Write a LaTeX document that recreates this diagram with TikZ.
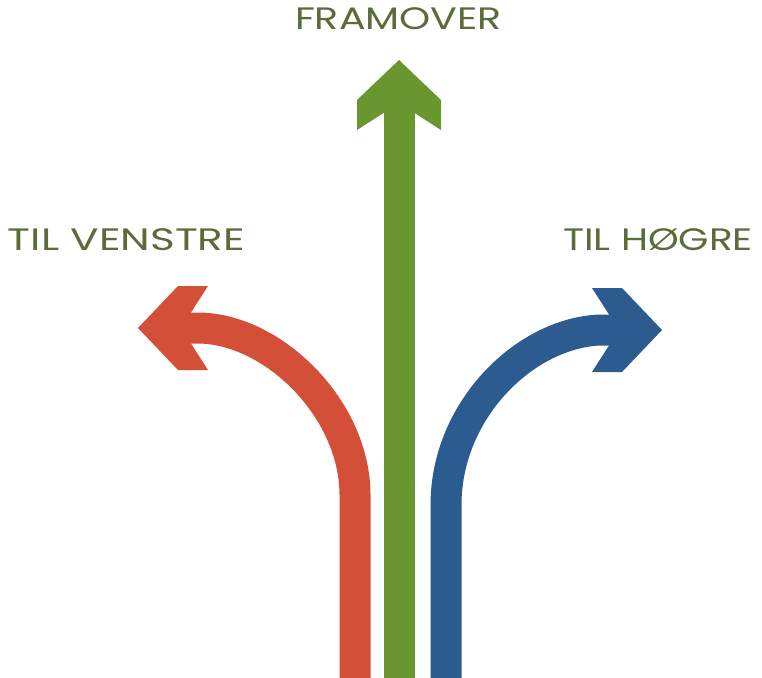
\documentclass[tikz,border=0pt]{standalone}
\usepackage{fontspec}
\setmainfont{Poppins}
\usepackage{graphicx}
\definecolor{redarrow}{RGB}{211,79,56}
\definecolor{greenarrow}{RGB}{106,150,48}
\definecolor{bluearrow}{RGB}{43,91,143}
\definecolor{labeltext}{RGB}{91,107,58}
\tikzset{
  shaft/.style={line width=31pt, line cap=butt},
  headfill/.style={fill, draw=none},
  label/.style={text=labeltext, inner sep=0pt, anchor=base, font=\fontsize{31}{31}\selectfont}
}
\begin{document}
\begin{tikzpicture}[x=1pt,y=-1pt]
\useasboundingbox (0,0) rectangle (762,677);
% named points
\coordinate (rbot) at (355,680);
\coordinate (rstart) at (355,495);
\coordinate (rend) at (200,328);
\coordinate (rin) at (185,328);
\coordinate (gbot) at (399,680);
\coordinate (gin) at (399,105);
\coordinate (bbot) at (446,680);
\coordinate (bstart) at (446,505);
\coordinate (bend) at (600,330);
\coordinate (bin) at (615,330);
% red arrow (left)
\draw[shaft, redarrow] (rbot) -- (rstart) .. controls (355,410) and (275,330) .. (rend) -- (rin);
\fill[redarrow] (138,328) -- (178,286) -- (208,286) -- (191,312.5) -- (191,343.5) -- (208,370) -- (178,370) -- cycle;
% green arrow (forward)
\draw[shaft, greenarrow] (gbot) -- (gin);
\fill[greenarrow] (399,60) -- (357,100) -- (357,130) -- (383.5,113) -- (414.5,113) -- (441,130) -- (441,100) -- cycle;
% blue arrow (right)
\draw[shaft, bluearrow] (bbot) -- (bstart) .. controls (446,410) and (525,333) .. (bend) -- (bin);
\fill[bluearrow] (662,330) -- (622,288) -- (592,288) -- (609,314.5) -- (609,345.5) -- (592,372) -- (622,372) -- cycle;
% labels
\node[label] (fram) at (398.5,30) {\resizebox{207pt}{\height}{FRAMOVER}};
\node[label] (venstre) at (126.5,250) {\resizebox{237pt}{\height}{TIL VENSTRE}};
\node[label] (hogre) at (658,250) {\resizebox{190pt}{\height}{TIL HØGRE}};
\end{tikzpicture}
\end{document}
